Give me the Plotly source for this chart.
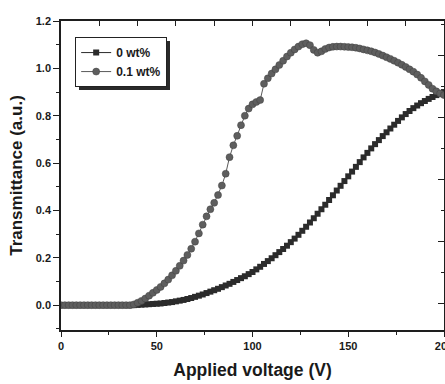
import plotly.graph_objects as go

# ---- data ----
voltage_0 = [i * 2 for i in range(101)]  # 0..200 V, step 2
trans_0 = [
    0.0, 0.0, 0.0, 0.0, 0.0, 0.0, 0.0, 0.0, 0.0, 0.0,
    0.0, 0.0, 0.0, 0.0, 0.0, 0.0, 0.0, 0.0, 0.0, 0.0,
    0.001, 0.002, 0.003, 0.004, 0.005, 0.006, 0.007, 0.009, 0.011, 0.013,
    0.016, 0.019, 0.022, 0.026, 0.030, 0.035, 0.040, 0.045, 0.051, 0.057,
    0.063, 0.069, 0.076, 0.083, 0.090, 0.098, 0.106, 0.114, 0.122, 0.131,
    0.140, 0.151, 0.162, 0.174, 0.186, 0.198, 0.211, 0.224, 0.237, 0.251,
    0.266, 0.281, 0.297, 0.314, 0.331, 0.349, 0.367, 0.386, 0.405, 0.424,
    0.444, 0.464, 0.484, 0.504, 0.524, 0.544, 0.564, 0.584, 0.604, 0.624,
    0.643, 0.662, 0.680, 0.697, 0.714, 0.730, 0.746, 0.762, 0.778, 0.793,
    0.807, 0.820, 0.832, 0.843, 0.853, 0.862, 0.871, 0.879, 0.887, 0.894,
    0.900,
]

voltage_01 = [i * 2 for i in range(101)]
trans_01 = [
    0.0, 0.0, 0.0, 0.0, 0.0, 0.0, 0.0, 0.0, 0.0, 0.0,
    0.0, 0.0, 0.0, 0.0, 0.0, 0.0, 0.0, 0.0, 0.0, 0.003,
    0.010, 0.018, 0.028, 0.040, 0.052, 0.064, 0.077, 0.092, 0.108, 0.126,
    0.145, 0.166, 0.188, 0.212, 0.238, 0.268, 0.303, 0.340, 0.375, 0.405,
    0.432, 0.465, 0.505, 0.555, 0.625, 0.675, 0.715, 0.760, 0.800, 0.830,
    0.848, 0.858, 0.866, 0.935, 0.958, 0.978, 0.996, 1.014, 1.032, 1.050,
    1.066, 1.080, 1.092, 1.102, 1.106, 1.098, 1.078, 1.066, 1.072, 1.082,
    1.088, 1.091, 1.092, 1.092, 1.091, 1.090, 1.089, 1.087, 1.084, 1.080,
    1.076, 1.072, 1.067, 1.061, 1.054, 1.047, 1.040, 1.032, 1.024, 1.015,
    1.006, 0.996, 0.986, 0.974, 0.960, 0.945, 0.930, 0.914, 0.903, 0.894,
    0.887,
]

x_ticks = [0, 50, 100, 150, 200]
y_ticks = [0.0, 0.2, 0.4, 0.6, 0.8, 1.0, 1.2]
series_names = ["0 wt%", "0.1 wt%"]

FONT = "Liberation Sans, Arial, sans-serif"
AX = "#1e1e1e"

fig = go.Figure()
fig.add_trace(go.Scatter(
    x=voltage_0, y=trans_0, name=series_names[0], mode="lines+markers",
    line=dict(color="#2b2b2b", width=1),
    marker=dict(symbol="square", size=6, color="#2b2b2b", line=dict(width=0)),
))
fig.add_trace(go.Scatter(
    x=voltage_01, y=trans_01, name=series_names[1], mode="lines+markers",
    line=dict(color="#5a5a5a", width=1),
    marker=dict(symbol="circle", size=7, color="#5e5e5e", line=dict(width=0.5, color="#404040")),
))
# helper trace so the secondary (frame) axes exist
fig.add_trace(go.Scatter(x=[], y=[], xaxis="x2", yaxis="y2", showlegend=False, hoverinfo="skip"))

# legend drop shadow (paper coordinates)
fig.add_shape(type="rect", xref="paper", yref="paper",
              x0=0.047, x1=0.2846, y0=0.777, y1=0.935,
              fillcolor="#2a2a2a", line=dict(width=0), layer="above")

fig.update_layout(
    width=445, height=384,
    margin=dict(l=61, r=1, t=21, b=54),
    paper_bgcolor="white", plot_bgcolor="white",
    font=dict(family=FONT, color="#1a1a1a"),
    showlegend=True,
    legend=dict(
        x=0.037, y=0.948, xanchor="left", yanchor="top",
        bgcolor="white", bordercolor="#222", borderwidth=1,
        font=dict(family=FONT, size=12, weight="bold", color="#1a1a1a"),
        tracegroupgap=0, itemwidth=30,
    ),
    xaxis=dict(
        range=[0, 200], tickvals=x_ticks, ticktext=[str(v) for v in x_ticks],
        ticks="outside", ticklen=5, tickwidth=1.2, tickcolor=AX,
        minor=dict(dtick=25, tick0=0, ticks="outside", ticklen=3, tickcolor=AX),
        showline=True, linecolor=AX, linewidth=1.5, showgrid=False, zeroline=False,
        tickfont=dict(family=FONT, size=11, weight="bold"),
        ticklabeloverflow="allow",
        automargin=False,
        title=dict(text="Applied voltage (V)", standoff=13,
                   font=dict(family=FONT, size=17.5, weight="bold")),
    ),
    xaxis2=dict(
        overlaying="x", side="top", range=[0, 200], tick0=0, dtick=20,
        ticks="inside", ticklen=5, tickcolor=AX, showticklabels=False,
        showline=True, linecolor=AX, linewidth=1.5, showgrid=False, zeroline=False,
        automargin=False,
    ),
    yaxis=dict(
        range=[-0.105, 1.2], tickvals=y_ticks, tickformat=".1f",
        ticks="outside", ticklen=6, tickwidth=1.2, tickcolor=AX,
        minor=dict(dtick=0.1, tick0=0, ticks="outside", ticklen=3, tickcolor=AX),
        showline=True, linecolor=AX, linewidth=1.5, showgrid=False, zeroline=False,
        tickfont=dict(family=FONT, size=11, weight="bold"),
        automargin=False,
        title=dict(text="Transmittance (a.u.)", standoff=9,
                   font=dict(family=FONT, size=17, weight="bold")),
    ),
    yaxis2=dict(
        overlaying="y", side="right", range=[-0.86, 9.11], tick0=0, dtick=2,
        ticks="inside", ticklen=6, tickcolor=AX, showticklabels=False,
        minor=dict(dtick=1, tick0=0, ticks="inside", ticklen=3, tickcolor=AX),
        showline=True, linecolor=AX, linewidth=1.5, showgrid=False, zeroline=False,
        automargin=False,
    ),
)

fig.write_html("out.html", config={"displayModeBar": False},
               post_script="document.body.style.margin='0';")
